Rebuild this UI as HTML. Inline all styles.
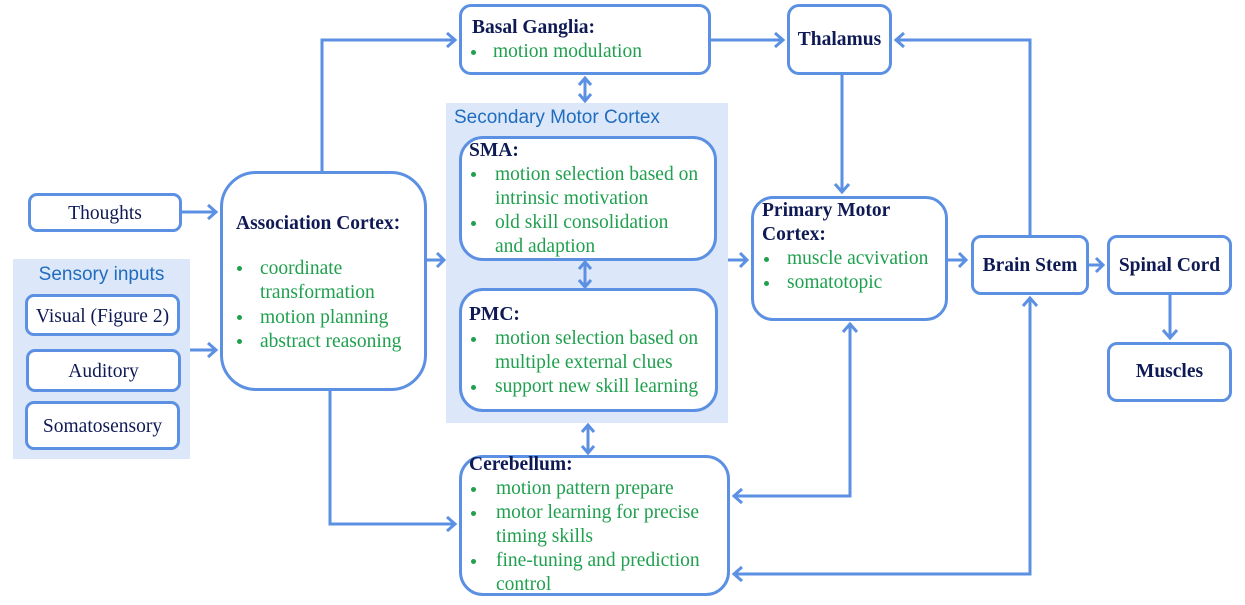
<!DOCTYPE html>
<html><head><meta charset="utf-8"><style>
body{margin:0;width:1245px;height:605px;background:#fff;position:relative;overflow:hidden;font-family:"Liberation Serif",serif;}
.bg{position:absolute;background:#dce8f9;}
.b{position:absolute;box-sizing:border-box;border:3px solid #5b90e2;background:#fff;}
.t{position:absolute;white-space:nowrap;font-size:19.5px;line-height:28px;}
.h{color:#0f1a55;font-weight:bold;}
.g{color:#20a04f;}
.n{color:#0f1a55;}
.s{font-family:"Liberation Sans",sans-serif;color:#1f6cc0;font-size:19px;}
.d{position:absolute;width:5px;height:5px;border-radius:50%;background:#20a04f;}
svg{position:absolute;left:0;top:0;}
</style></head><body>
<div class="bg" style="left:13px;top:259px;width:177px;height:200px"></div>
<div class="bg" style="left:446px;top:103px;width:282px;height:320px"></div>

<svg width="1245" height="605" style="z-index:0">
<g stroke="#5b90e2" stroke-width="3" fill="none">
<path d="M182 212H216"/><path d="M190 350H216"/>
<path d="M322 171V40H455"/><path d="M330 390V524H455"/>
<path d="M427 260H444"/><path d="M711 40H783"/>
<path d="M728 260H747"/><path d="M842 74V192"/>
<path d="M948 260H966"/><path d="M1030 237V40H896"/>
<path d="M850 324V496H734"/><path d="M1030 298V574H734"/>
<path d="M1089 265H1103"/><path d="M1170 294V338"/>
<path d="M585 78V101"/><path d="M585 262V287"/><path d="M588 425V453"/>
</g>
<g stroke="#5b90e2" stroke-width="3" fill="none" stroke-linejoin="miter">
<path d="M208 205L216 212L208 219"/><path d="M208 343L216 350L208 357"/>
<path d="M447 33L455 40L447 47"/><path d="M447 517L455 524L447 531"/>
<path d="M437 253L444 260L437 267"/><path d="M775 33L783 40L775 47"/>
<path d="M740 253L747 260L740 267"/><path d="M835 184L842 192L849 184"/>
<path d="M959 253L966 260L959 267"/><path d="M904 33L896 40L904 47"/>
<path d="M843 332L850 324L857 332"/><path d="M742 489L734 496L742 503"/>
<path d="M1023 306L1030 298L1037 306"/><path d="M742 567L734 574L742 581"/>
<path d="M1096 258L1103 265L1096 272"/><path d="M1163 330L1170 338L1177 330"/>
<path d="M579 85L585 78L591 85"/><path d="M579 94L585 101L591 94"/>
<path d="M579 269L585 262L591 269"/><path d="M579 280L585 287L591 280"/>
<path d="M582 432L588 425L594 432"/><path d="M582 446L588 453L594 446"/>
</g>
</svg>

<div class="b" style="left:28px;top:193px;width:154px;height:39px;border-radius:9px"></div>
<div class="t n" style="left:28px;top:200px;width:154px;text-align:center">Thoughts</div>
<div class="t s" style="left:13px;top:263px;width:177px;text-align:center;line-height:24px">Sensory inputs</div>
<div class="b" style="left:25px;top:294px;width:155px;height:42px;border-radius:9px"></div>
<div class="t n" style="left:25px;top:303px;width:155px;text-align:center">Visual (Figure 2)</div>
<div class="b" style="left:26px;top:349px;width:155px;height:43px;border-radius:9px"></div>
<div class="t n" style="left:26px;top:358px;width:155px;text-align:center">Auditory</div>
<div class="b" style="left:25px;top:401px;width:155px;height:49px;border-radius:9px"></div>
<div class="t n" style="left:25px;top:413px;width:155px;text-align:center">Somatosensory</div>

<div class="b" style="left:220px;top:171px;width:207px;height:220px;border-radius:36px"></div>
<div class="t h" style="left:236px;top:207px">Association Cortex<span style="font-family:'Noto Serif CJK SC',serif">:</span></div>
<div class="d" style="left:237px;top:266px"></div><div class="t g" style="left:260px;top:255px">coordinate</div>
<div class="t g" style="left:260px;top:279px">transformation</div>
<div class="d" style="left:237px;top:315px"></div><div class="t g" style="left:260px;top:304px">motion planning</div>
<div class="d" style="left:237px;top:339px"></div><div class="t g" style="left:260px;top:328px">abstract reasoning</div>

<div class="b" style="left:459px;top:4px;width:252px;height:71px;border-radius:12px"></div>
<div class="t h" style="left:472px;top:14px">Basal Ganglia:</div>
<div class="d" style="left:471px;top:50px"></div><div class="t g" style="left:493px;top:38px">motion modulation</div>

<div class="t s" style="left:454px;top:106px;line-height:24px">Secondary Motor Cortex</div>
<div class="b" style="left:459px;top:136px;width:258px;height:125px;border-radius:24px"></div>
<div class="t h" style="left:469px;top:137px">SMA:</div>
<div class="d" style="left:471px;top:172px"></div><div class="t g" style="left:495px;top:161px">motion selection based on</div>
<div class="t g" style="left:495px;top:185px">intrinsic motivation</div>
<div class="d" style="left:471px;top:221px"></div><div class="t g" style="left:495px;top:209px">old skill consolidation</div>
<div class="t g" style="left:495px;top:233px">and adaption</div>

<div class="b" style="left:459px;top:288px;width:259px;height:124px;border-radius:24px"></div>
<div class="t h" style="left:469px;top:301px">PMC:</div>
<div class="d" style="left:471px;top:337px"></div><div class="t g" style="left:495px;top:325px">motion selection based on</div>
<div class="t g" style="left:495px;top:349px">multiple external clues</div>
<div class="d" style="left:471px;top:385px"></div><div class="t g" style="left:495px;top:373px">support new skill learning</div>

<div class="b" style="left:459px;top:455px;width:271px;height:141px;border-radius:24px"></div>
<div class="t h" style="left:469px;top:451px">Cerebellum:</div>
<div class="d" style="left:471px;top:487px"></div><div class="t g" style="left:496px;top:475px">motion pattern prepare</div>
<div class="d" style="left:471px;top:511px"></div><div class="t g" style="left:496px;top:499px">motor learning for precise</div>
<div class="t g" style="left:496px;top:523px">timing skills</div>
<div class="d" style="left:471px;top:559px"></div><div class="t g" style="left:496px;top:547px">fine-tuning and prediction</div>
<div class="t g" style="left:496px;top:571px">control</div>

<div class="b" style="left:787px;top:4px;width:105px;height:71px;border-radius:12px"></div>
<div class="t h" style="left:787px;top:26px;width:105px;text-align:center">Thalamus</div>

<div class="b" style="left:751px;top:196px;width:197px;height:125px;border-radius:22px"></div>
<div class="t h" style="left:762px;top:197px">Primary Motor</div>
<div class="t h" style="left:762px;top:221px">Cortex:</div>
<div class="d" style="left:764px;top:257px"></div><div class="t g" style="left:787px;top:245px">muscle acvivation</div>
<div class="d" style="left:764px;top:281px"></div><div class="t g" style="left:787px;top:269px">somatotopic</div>

<div class="b" style="left:971px;top:235px;width:118px;height:60px;border-radius:10px"></div>
<div class="t h" style="left:971px;top:252px;width:118px;text-align:center">Brain Stem</div>
<div class="b" style="left:1107px;top:235px;width:125px;height:60px;border-radius:10px"></div>
<div class="t h" style="left:1107px;top:252px;width:125px;text-align:center">Spinal Cord</div>
<div class="b" style="left:1107px;top:342px;width:125px;height:60px;border-radius:10px"></div>
<div class="t h" style="left:1107px;top:358px;width:125px;text-align:center">Muscles</div>
</body></html>
